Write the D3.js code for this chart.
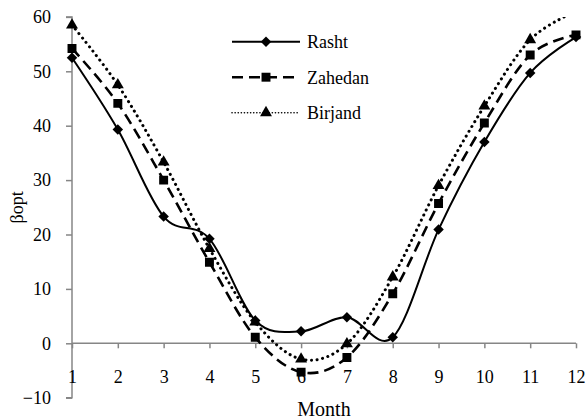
<!DOCTYPE html>
<html>
<head>
<meta charset="utf-8">
<script src="https://cdn.jsdelivr.net/npm/d3@7"></script>
<style>
  body { margin: 0; background: #fff; }
  svg { display: block; }
  svg text { font-family: "Liberation Serif", "Times New Roman", serif !important; fill: #000; }
</style>
</head>
<body>
<svg id="chart" width="586" height="419"></svg>
<script>
const months = [1, 2, 3, 4, 5, 6, 7, 8, 9, 10, 11, 12];
const rasht = [52.5, 39.3, 23.3, 19.2, 4.2, 2.2, 4.8, 1.1, 20.9, 37.0, 49.7, 56.3];
const zahedan = [54.2, 44.1, 30.0, 14.9, 1.1, -5.3, -2.6, 9.1, 25.7, 40.5, 53.0, 56.7];
const birjand = [58.5, 47.5, 33.3, 17.4, 3.9, -2.9, -0.1, 12.2, 29.0, 43.6, 55.8, 61.0];
const yTicks = [-10, 0, 10, 20, 30, 40, 50, 60];

// diamond = square turned 45 degrees
const diamond = {
  draw(ctx, size) {
    const r = Math.sqrt(size / 2);
    ctx.moveTo(0, -r);
    ctx.lineTo(r, 0);
    ctx.lineTo(0, r);
    ctx.lineTo(-r, 0);
    ctx.closePath();
  },
};

const series = [
  { name: "Rasht", values: rasht, dash: null, width: 2, cap: "butt", marker: diamond, size: 55 },
  { name: "Zahedan", values: zahedan, dash: "11,6", width: 2.6, cap: "butt", marker: d3.symbolSquare, size: 80 },
  { name: "Birjand", values: birjand, dash: "0.1,5.5", width: 3, cap: "round", marker: d3.symbolTriangle, size: 62 },
];

const svg = d3.select("#chart");
const axisColor = "#868686";

const x = d3.scaleLinear().domain([1, 12]).range([72, 576]);
const y = d3.scaleLinear().domain([-10, 60]).range([397.7, 16.9]);

svg.append("defs").append("clipPath").attr("id", "plot")
  .append("rect")
  .attr("x", x(1) - 10).attr("y", y(60))
  .attr("width", x(12) - x(1) + 20).attr("height", y(-10) - y(60));

// y axis
const yAxisG = svg.append("g").attr("transform", `translate(${x(1)},0)`)
  .call(d3.axisLeft(y).tickValues(yTicks).tickSize(6).tickPadding(15))
  .attr("font-family", null).attr("font-size", 18);
yAxisG.select(".domain").attr("stroke", axisColor).attr("stroke-width", 1.5).attr("d", `M-6,${y(-10)}H0V${y(60)}H-6`);
yAxisG.selectAll(".tick line").attr("stroke", axisColor).attr("stroke-width", 1.5);

// x axis at y = 0
const xAxisG = svg.append("g").attr("transform", `translate(0,${y(0)})`)
  .call(d3.axisBottom(x).tickValues(months).tickFormat(d3.format("d")).tickSize(5).tickPadding(22))
  .attr("font-family", null).attr("font-size", 18);
xAxisG.select(".domain").attr("stroke", axisColor).attr("stroke-width", 1.5).attr("d", `M${x(1)},0H${x(12)}`);
xAxisG.selectAll(".tick line").attr("stroke", axisColor).attr("stroke-width", 1.5);

// axis titles
svg.append("text")
  .attr("x", x(6.5)).attr("y", 416)
  .attr("text-anchor", "middle").attr("font-size", 20)
  .text("Month");

svg.append("text")
  .attr("transform", `translate(23,${y(25)}) rotate(-90)`)
  .attr("text-anchor", "middle").attr("font-size", 18)
  .text("βopt");

const line = d3.line()
  .x((d, i) => x(months[i]))
  .y((d) => y(d))
  .curve(d3.curveCardinal.tension(0));

const plotG = svg.append("g").attr("clip-path", "url(#plot)");

series.forEach((s) => {
  plotG.append("path")
    .datum(s.values)
    .attr("d", line)
    .attr("fill", "none")
    .attr("stroke", "#000")
    .attr("stroke-width", s.width)
    .attr("stroke-linecap", s.cap)
    .attr("stroke-dasharray", s.dash);

  plotG.selectAll(null)
    .data(s.values)
    .enter()
    .append("path")
    .attr("transform", (d, i) => `translate(${x(months[i])},${y(d)})`)
    .attr("d", d3.symbol().type(s.marker).size(s.size))
    .attr("fill", "#000");
});

// legend
const legend = svg.append("g");
series.forEach((s, i) => {
  const ly = 41.7 + i * 35.5;
  legend.append("line")
    .attr("x1", 232).attr("x2", 300)
    .attr("y1", ly).attr("y2", ly)
    .attr("stroke", "#000")
    .attr("stroke-width", i === 2 ? 1.6 : s.width)
    .attr("stroke-linecap", s.cap)
    .attr("stroke-dasharray", i === 2 ? "0.1,3" : s.dash);
  legend.append("path")
    .attr("transform", `translate(266,${ly})`)
    .attr("d", d3.symbol().type(s.marker).size(s.size))
    .attr("fill", "#000");
  legend.append("text")
    .attr("x", 307).attr("y", ly)
    .attr("dy", "0.35em")
    .attr("font-size", 18)
    .text(s.name);
});
</script>
</body>
</html>
